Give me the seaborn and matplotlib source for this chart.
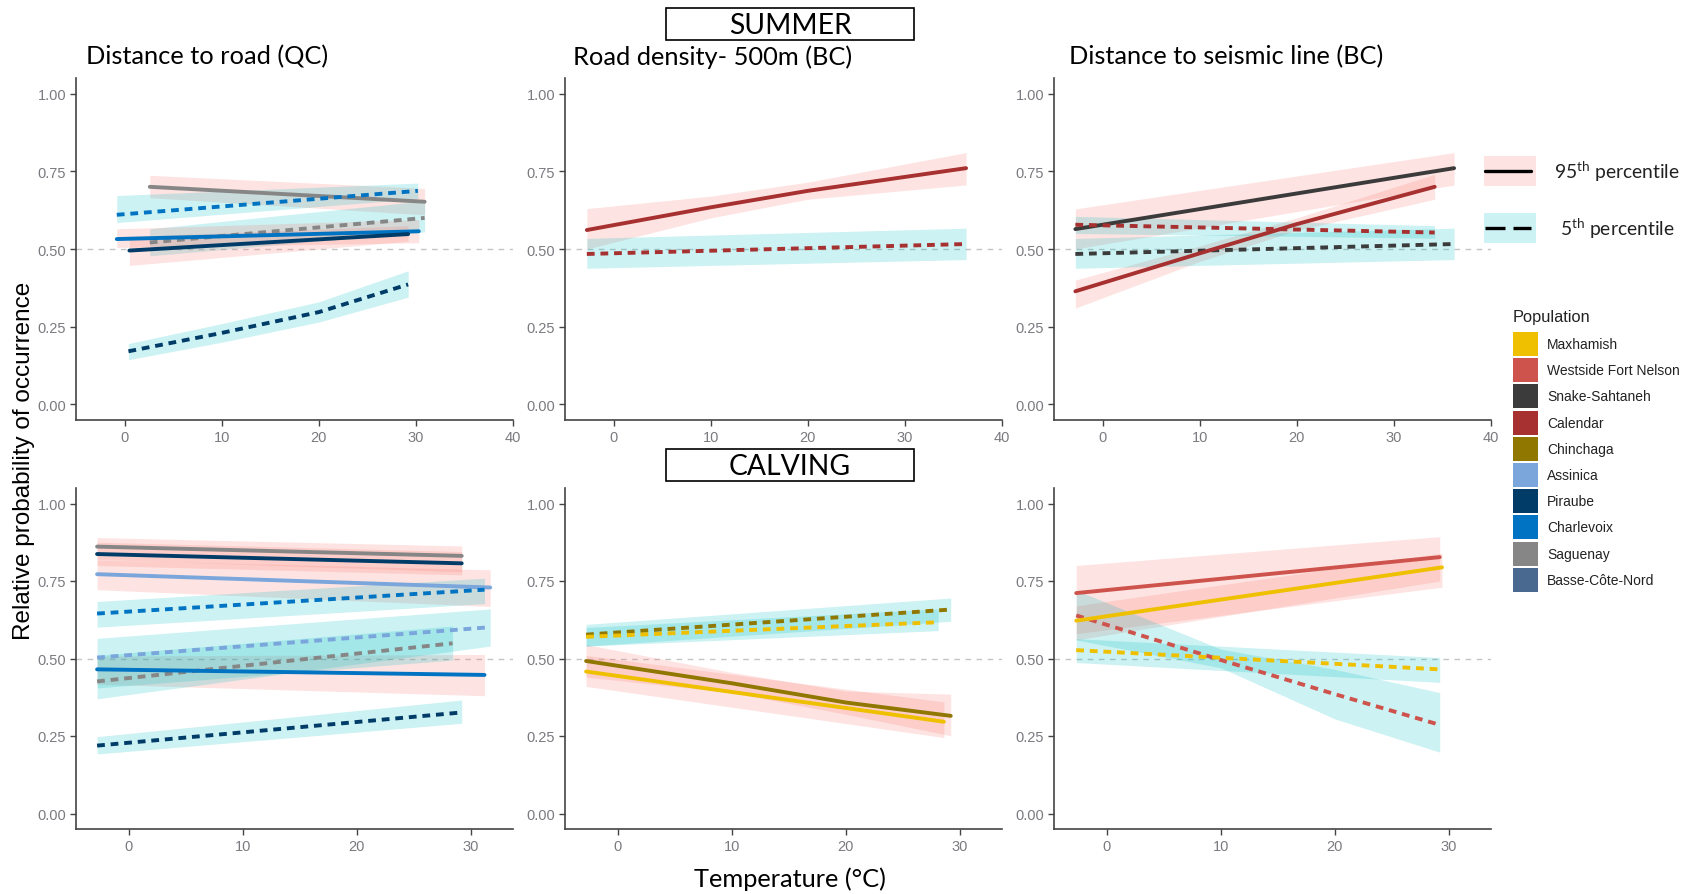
import numpy as np
import pandas as pd
import matplotlib
matplotlib.use("Agg")
import matplotlib.pyplot as plt
from matplotlib.patches import Rectangle
from matplotlib.lines import Line2D
import seaborn as sns

sns.set_theme(style="white")
plt.rcParams['font.family'] = ['Liberation Sans', 'DejaVu Sans']
TITLE_FONT = ['Lato', 'DejaVu Sans']

# ---------------- data ----------------
POPULATIONS = ["Maxhamish", "Westside Fort Nelson", "Snake-Sahtaneh", "Calendar", "Chinchaga",
               "Assinica", "Piraube", "Charlevoix", "Saguenay", "Basse-Côte-Nord"]
POP_COLORS = ["#EFC000", "#CD534C", "#3B3B3B", "#A73030", "#8F7700",
              "#7AA6DC", "#003C67", "#0073C2", "#868686", "#4A6990"]
PERCENTILES = ["95th", "5th"]
PERCENTILE_LABELS = ["95$^{\\mathregular{th}}$ percentile", "5$^{\\mathregular{th}}$ percentile"]
RIBBON_COLORS = ["#F8766D", "#00BFC4"]
PANEL_TITLES = ["Distance to road (QC)", "Road density- 500m (BC)", "Distance to seismic line (BC)"]
SEASONS = ["SUMMER", "CALVING"]
Y_TICKS = [0.0, 0.25, 0.5, 0.75, 1.0]
SUMMER_X_TICKS = [0, 10, 20, 30, 40]
CALVING_X_TICKS = [0, 10, 20, 30]

# (population, percentile, temperature, probability, lower CI, upper CI)
summer_road_qc = [
    ("Saguenay", "95th", [2.6, 30.9], [0.700, 0.652], [0.665, 0.610], [0.737, 0.695]),
    ("Charlevoix", "5th", [-0.8, 30.2], [0.610, 0.687], [0.585, 0.662], [0.672, 0.712]),
    ("Saguenay", "5th", [2.6, 30.9], [0.521, 0.600], [0.478, 0.555], [0.565, 0.655]),
    ("Charlevoix", "95th", [-0.8, 30.3], [0.532, 0.557], [0.505, 0.520], [0.565, 0.595]),
    ("Piraube", "95th", [0.5, 29.2], [0.495, 0.548], [0.447, 0.525], [0.540, 0.575]),
    ("Piraube", "5th", [0.4, 10, 20, 29.2], [0.171, 0.230, 0.297, 0.386],
     [0.144, 0.200, 0.265, 0.345], [0.196, 0.260, 0.330, 0.430]),
]
summer_density_bc = [
    ("Calendar", "95th", [-2.75, 10, 20, 36.3], [0.561, 0.634, 0.687, 0.760],
     [0.500, 0.600, 0.660, 0.706], [0.630, 0.670, 0.715, 0.810]),
    ("Calendar", "5th", [-2.75, 36.3], [0.484, 0.516], [0.438, 0.466], [0.534, 0.567]),
]
summer_seismic_bc = [
    ("Snake-Sahtaneh", "95th", [-2.8, 36.2], [0.564, 0.760], [0.500, 0.706], [0.629, 0.810]),
    ("Calendar", "95th", [-2.8, 10, 20, 34.2], [0.364, 0.486, 0.580, 0.700],
     [0.310, 0.460, 0.560, 0.660], [0.400, 0.510, 0.600, 0.740]),
    ("Calendar", "5th", [-2.8, 34.2], [0.578, 0.553], [0.550, 0.535], [0.605, 0.575]),
    ("Snake-Sahtaneh", "5th", [-2.8, 36.2], [0.484, 0.516], [0.438, 0.466], [0.534, 0.567]),
]
calving_road_qc = [
    ("Saguenay", "95th", [-2.8, 29.2], [0.861, 0.831], [0.820, 0.780], [0.890, 0.863]),
    ("Piraube", "95th", [-2.8, 29.2], [0.837, 0.807], [0.800, 0.770], [0.875, 0.845]),
    ("Assinica", "95th", [-2.8, 31.7], [0.772, 0.729], [0.722, 0.668], [0.818, 0.786]),
    ("Charlevoix", "95th", [-2.8, 31.2], [0.465, 0.447], [0.417, 0.380], [0.508, 0.513]),
    ("Charlevoix", "5th", [-2.8, 31.2], [0.645, 0.722], [0.601, 0.677], [0.684, 0.759]),
    ("Assinica", "5th", [-2.8, 31.7], [0.503, 0.601], [0.370, 0.540], [0.565, 0.660]),
    ("Saguenay", "5th", [-2.8, 28.4], [0.426, 0.549], [0.405, 0.495], [0.510, 0.605]),
    ("Piraube", "5th", [-2.8, 29.2], [0.219, 0.326], [0.192, 0.291], [0.248, 0.366]),
]
calving_density_bc = [
    ("Chinchaga", "95th", [-2.8, 10, 20, 29.2], [0.492, 0.420, 0.358, 0.315],
     [0.440, 0.390, 0.320, 0.251], [0.545, 0.455, 0.395, 0.385]),
    ("Maxhamish", "95th", [-2.8, 28.6], [0.458, 0.296], [0.410, 0.245], [0.510, 0.360]),
    ("Chinchaga", "5th", [-2.8, 29.2], [0.577, 0.658], [0.540, 0.620], [0.610, 0.695]),
    ("Maxhamish", "5th", [-2.8, 28.1], [0.570, 0.617], [0.540, 0.590], [0.600, 0.660]),
]
calving_seismic_bc = [
    ("Westside Fort Nelson", "95th", [-2.7, 29.2], [0.711, 0.827], [0.560, 0.750], [0.800, 0.893]),
    ("Maxhamish", "95th", [-2.7, 29.4], [0.622, 0.794], [0.580, 0.730], [0.670, 0.840]),
    ("Westside Fort Nelson", "5th", [-2.7, 10, 20, 29.2], [0.639, 0.495, 0.385, 0.286],
     [0.560, 0.470, 0.305, 0.198], [0.720, 0.530, 0.465, 0.390]),
    ("Maxhamish", "5th", [-2.7, 29.2], [0.527, 0.465], [0.487, 0.423], [0.564, 0.503]),
]

# ---------------- layout ----------------
W, H = 1692, 895
fig = plt.figure(figsize=(W / 100, H / 100), dpi=100)
fig.patch.set_facecolor("white")

col_px = [(76, 513), (565, 1002), (1054, 1491)]
row_px = [(79, 421), (489, 830)]
xlims = [(-5, 40), (-4.65, 33.7)]

palette = dict(zip(POPULATIONS, POP_COLORS))
ribbon = dict(zip(PERCENTILES, RIBBON_COLORS))
dashes = {"95th": "", "5th": (2.0, 1.5)}

panels = [[summer_road_qc, summer_density_bc, summer_seismic_bc],
          [calving_road_qc, calving_density_bc, calving_seismic_bc]]


def to_frame(series):
    rows = []
    for k, (pop, pct, xs, ys, lo, hi) in enumerate(series):
        for x, y, l, h in zip(xs, ys, lo, hi):
            rows.append(dict(sid=k, Population=pop, Percentile=pct, temp=x, prob=y, lo=l, hi=h))
    return pd.DataFrame(rows)


for r in range(2):
    for c in range(3):
        x0, x1 = col_px[c]
        y0, y1 = row_px[r]
        ax = fig.add_axes([x0 / W, 1 - y1 / H, (x1 - x0) / W, (y1 - y0) / H])
        df = to_frame(panels[r][c])
        ax.axhline(0.5, color="#c4c4c4", lw=1.0, ls=(0, (4, 4)), zorder=0)
        for sid, g in df.groupby("sid"):
            ax.fill_between(g["temp"], g["lo"], g["hi"], color=ribbon[g["Percentile"].iloc[0]],
                            alpha=0.2, lw=0, zorder=1)
        sns.lineplot(data=df, x="temp", y="prob", hue="Population", style="Percentile",
                     units="sid", estimator=None, palette=palette, dashes=dashes,
                     lw=2.8, legend=False, ax=ax, zorder=3, sort=True)
        ax.set_xlim(*xlims[r])
        ax.set_ylim(-0.05, 1.05)
        ax.set_xticks(SUMMER_X_TICKS if r == 0 else CALVING_X_TICKS)
        ax.set_yticks(Y_TICKS)
        ax.set_yticklabels([f"{v:.2f}" for v in Y_TICKS])
        ax.set_xlabel("")
        ax.set_ylabel("")
        for s in ["top", "right"]:
            ax.spines[s].set_visible(False)
        for s in ["left", "bottom"]:
            ax.spines[s].set_color("#444444")
            ax.spines[s].set_linewidth(1.2)
        ax.tick_params(axis="both", which="major", length=4, width=1, color="#444444",
                       labelcolor="#7a7a80", labelsize=10.5, pad=3, bottom=True, left=True)
        ax.set_facecolor("white")

# panel titles
title_x = [86, 573, 1069]
for t, xp in zip(PANEL_TITLES, title_x):
    fig.text(xp / W, 1 - 57 / H, t, ha="left", va="center", fontsize=18.3,
             family=TITLE_FONT, color="black")

# season boxes
for season, (yt, yb) in zip(SEASONS, [(9, 41), (450, 482)]):
    fig.patches.append(Rectangle((666 / W, 1 - yb / H), 248 / W, (yb - yt) / H,
                                 transform=fig.transFigure, fc="white", ec="black", lw=1.2))
    fig.text(790 / W, 1 - ((yt + yb) / 2 + 1) / H, season, ha="center", va="center",
             fontsize=20.3, family=TITLE_FONT, color="black")

# axis labels
fig.text(24 / W, 1 - 461 / H, "Relative probability of occurrence", rotation=90,
         ha="center", va="center", fontsize=17.5, color="black")
fig.text(790 / W, 1 - 879 / H, "Temperature (°C)", ha="center", va="center",
         fontsize=18.3, family=TITLE_FONT, color="black")

# percentile legend
for k, (lab, col, yc) in enumerate(zip(PERCENTILE_LABELS, RIBBON_COLORS, [172, 229])):
    fig.patches.append(Rectangle((1484 / W, 1 - (yc + 15) / H), 52 / W, 30 / H,
                                 transform=fig.transFigure, fc=col, alpha=0.2, lw=0))
    fig.lines.append(Line2D([1485 / W, 1531 / W], [1 - yc / H, 1 - yc / H],
                            transform=fig.transFigure, color="black", lw=2.4,
                            ls="-" if k == 0 else (0, (6.0, 2.4))))
    fig.text((1554 if k == 0 else 1560) / W, 1 - yc / H, lab, ha="left", va="center",
             fontsize=13.9, family=TITLE_FONT, color="#222222")

# population legend
fig.text(1513 / W, 1 - 318 / H, "Population", ha="left", va="center", fontsize=11.8,
         color="#222222")
for i, (pop, col) in enumerate(zip(POPULATIONS, POP_COLORS)):
    yc = 345 + i * 26.2
    fig.patches.append(Rectangle((1513 / W, 1 - (yc + 12) / H), 25 / W, 24 / H,
                                 transform=fig.transFigure, fc=col, lw=0))
    fig.text(1547 / W, 1 - yc / H, pop, ha="left", va="center", fontsize=10,
             color="#222222")

fig.savefig("out.png", dpi=100, facecolor="white")
